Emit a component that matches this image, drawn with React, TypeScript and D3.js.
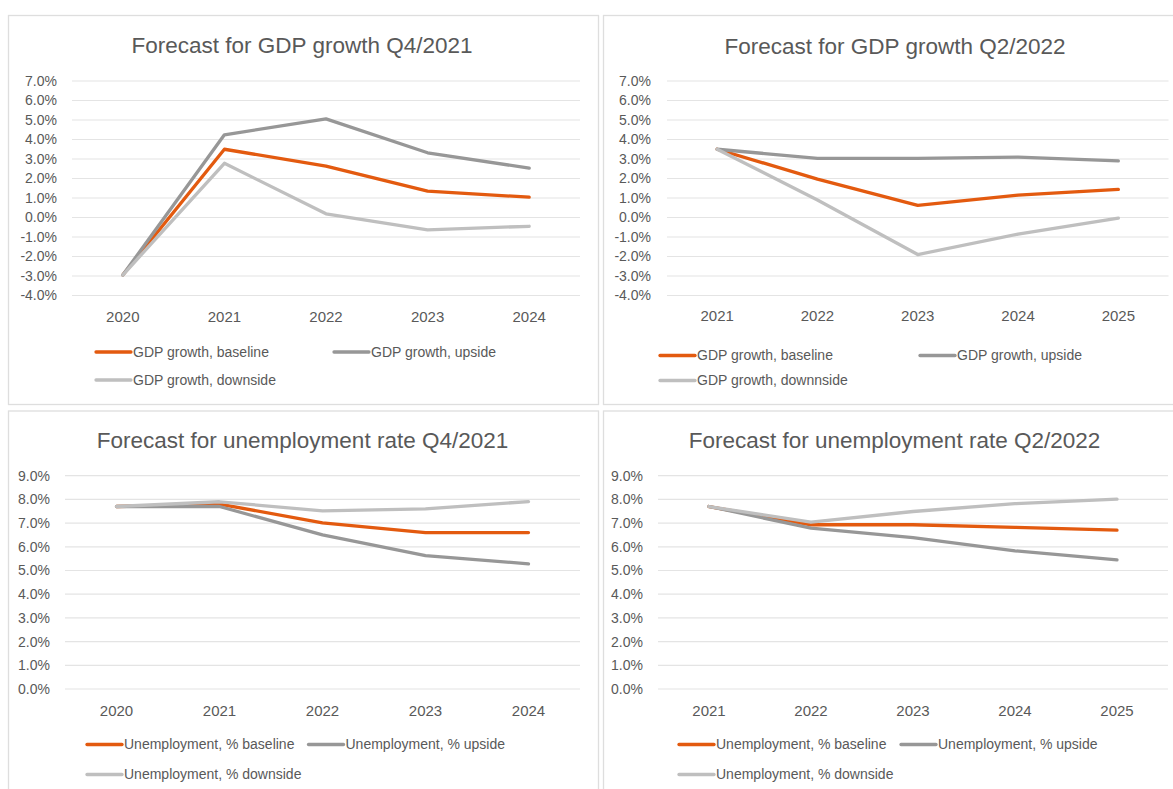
import React, { useEffect, useRef } from 'react'
import * as d3 from 'd3'

// data
const gdpYearsA = ['2020', '2021', '2022', '2023', '2024']
const gdpBaselineA = [-2.95, 3.5, 2.63, 1.35, 1.04]
const gdpUpsideA = [-2.95, 4.24, 5.06, 3.32, 2.53]
const gdpDownsideA = [-2.95, 2.78, 0.19, -0.63, -0.45]

const gdpYearsB = ['2021', '2022', '2023', '2024', '2025']
const gdpBaselineB = [3.5, 1.97, 0.62, 1.15, 1.44]
const gdpUpsideB = [3.5, 3.03, 3.03, 3.1, 2.9]
const gdpDownsideB = [3.5, 0.9, -1.9, -0.85, -0.03]

const unempYearsA = ['2020', '2021', '2022', '2023', '2024']
const unempBaselineA = [7.7, 7.8, 7.01, 6.6, 6.6]
const unempUpsideA = [7.7, 7.7, 6.5, 5.63, 5.28]
const unempDownsideA = [7.7, 7.9, 7.52, 7.6, 7.91]

const unempYearsB = ['2021', '2022', '2023', '2024', '2025']
const unempBaselineB = [7.7, 6.93, 6.93, 6.82, 6.7]
const unempUpsideB = [7.7, 6.79, 6.39, 5.83, 5.45]
const unempDownsideB = [7.7, 7.04, 7.49, 7.82, 8.01]

const gdpTicks = d3.range(-4, 8)
const unempTicks = d3.range(0, 10)

const gdpNames = ['GDP growth, baseline', 'GDP growth, upside', 'GDP growth, downside']
const gdpNamesB = ['GDP growth, baseline', 'GDP growth, upside', 'GDP growth, downnside']
const unempNames = ['Unemployment, % baseline', 'Unemployment, % upside', 'Unemployment, % downside']

const COLORS = ['#E35A0F', '#979797', '#BFBFBF']
const TEXT = '#595959'
const FONT = '"Liberation Sans", Arial, sans-serif'

type Panel = {
  title: string
  years: string[]
  series: number[][]
  names: string[]
  ticks: number[]
  box: { x: number; y: number; w: number; h: number }
  titleX: number
  titleY: number
  plot: { x0: number; x1: number; yTop: number; yBot: number }
  tickX: number
  xLabelY: number
  legend: { lx: number; y: number }[]
}

const panels: Panel[] = [
  {
    title: 'Forecast for GDP growth Q4/2021',
    years: gdpYearsA,
    series: [gdpBaselineA, gdpUpsideA, gdpDownsideA],
    names: gdpNames,
    ticks: gdpTicks,
    box: { x: 8.5, y: 15.5, w: 590, h: 389 },
    titleX: 302,
    titleY: 53,
    plot: { x0: 72, x1: 580, yTop: 81, yBot: 295.5 },
    tickX: 57,
    xLabelY: 322,
    legend: [
      { lx: 96, y: 352 },
      { lx: 334, y: 352 },
      { lx: 96, y: 380 },
    ],
  },
  {
    title: 'Forecast for GDP growth Q2/2022',
    years: gdpYearsB,
    series: [gdpBaselineB, gdpUpsideB, gdpDownsideB],
    names: gdpNamesB,
    ticks: gdpTicks,
    box: { x: 603.5, y: 15.5, w: 590, h: 389 },
    titleX: 895,
    titleY: 54,
    plot: { x0: 667, x1: 1168.5, yTop: 81, yBot: 295.5 },
    tickX: 651,
    xLabelY: 321,
    legend: [
      { lx: 660, y: 355.5 },
      { lx: 920, y: 355.5 },
      { lx: 660, y: 380.5 },
    ],
  },
  {
    title: 'Forecast for unemployment rate Q4/2021',
    years: unempYearsA,
    series: [unempBaselineA, unempUpsideA, unempDownsideA],
    names: unempNames,
    ticks: unempTicks,
    box: { x: 8.5, y: 411, w: 590, h: 400 },
    titleX: 302.5,
    titleY: 448,
    plot: { x0: 65, x1: 580, yTop: 475.7, yBot: 689 },
    tickX: 50,
    xLabelY: 716,
    legend: [
      { lx: 87, y: 744.5 },
      { lx: 308.5, y: 744.5 },
      { lx: 87, y: 774.5 },
    ],
  },
  {
    title: 'Forecast for unemployment rate Q2/2022',
    years: unempYearsB,
    series: [unempBaselineB, unempUpsideB, unempDownsideB],
    names: unempNames,
    ticks: unempTicks,
    box: { x: 603.5, y: 411, w: 590, h: 400 },
    titleX: 894.5,
    titleY: 448,
    plot: { x0: 658, x1: 1168, yTop: 475.7, yBot: 689 },
    tickX: 643,
    xLabelY: 716,
    legend: [
      { lx: 679, y: 744.5 },
      { lx: 901, y: 744.5 },
      { lx: 679, y: 774.5 },
    ],
  },
]

const App: React.FC = () => {
  const svgRef = useRef<SVGSVGElement>(null)

  useEffect(() => {
    const svg = d3.select(svgRef.current)
    svg.selectAll('*').remove()

    svg.append('rect').attr('width', 1173).attr('height', 789).attr('fill', '#fff')

    panels.forEach((p) => {
      const g = svg.append('g')

      g.append('rect')
        .attr('x', p.box.x)
        .attr('y', p.box.y)
        .attr('width', p.box.w)
        .attr('height', p.box.h)
        .attr('fill', '#fff')
        .attr('stroke', '#DEDEDE')
        .attr('stroke-width', 1.3)

      const x = d3
        .scalePoint<string>()
        .domain(p.years)
        .range([p.plot.x0, p.plot.x1])
        .padding(0.5)

      const lo = p.ticks[0]
      const hi = p.ticks[p.ticks.length - 1]
      const y = d3.scaleLinear().domain([lo, hi]).range([p.plot.yBot, p.plot.yTop])

      // gridlines
      g.selectAll('.grid')
        .data(p.ticks)
        .enter()
        .append('line')
        .attr('x1', p.plot.x0)
        .attr('x2', p.plot.x1)
        .attr('y1', (d) => y(d))
        .attr('y2', (d) => y(d))
        .attr('stroke', '#E4E4E4')
        .attr('stroke-width', 1.2)

      // y tick labels
      g.selectAll('.ytick')
        .data(p.ticks)
        .enter()
        .append('text')
        .attr('x', p.tickX)
        .attr('y', (d) => y(d))
        .attr('dy', '0.35em')
        .attr('text-anchor', 'end')
        .attr('font-size', 14)
        .attr('font-family', FONT)
        .attr('fill', TEXT)
        .text((d) => `${d.toFixed(1)}%`)

      // x labels
      g.selectAll('.xtick')
        .data(p.years)
        .enter()
        .append('text')
        .attr('x', (d) => x(d)!)
        .attr('y', p.xLabelY)
        .attr('text-anchor', 'middle')
        .attr('font-size', 15)
        .attr('font-family', FONT)
        .attr('fill', TEXT)
        .text((d) => d)

      // title
      g.append('text')
        .attr('x', p.titleX)
        .attr('y', p.titleY)
        .attr('text-anchor', 'middle')
        .attr('font-size', 22.5)
        .attr('font-family', FONT)
        .attr('fill', TEXT)
        .text(p.title)

      // lines
      const line = d3
        .line<number>()
        .x((_, i) => x(p.years[i])!)
        .y((d) => y(d))

      p.series.forEach((s, i) => {
        g.append('path')
          .attr('d', line(s)!)
          .attr('fill', 'none')
          .attr('stroke', COLORS[i])
          .attr('stroke-width', 3.3)
          .attr('stroke-linejoin', 'round')
          .attr('stroke-linecap', 'round')
      })

      // legend
      p.legend.forEach((l, i) => {
        g.append('line')
          .attr('x1', l.lx)
          .attr('x2', l.lx + 35)
          .attr('y1', l.y)
          .attr('y2', l.y)
          .attr('stroke', COLORS[i])
          .attr('stroke-width', 3.3)
          .attr('stroke-linecap', 'round')
        g.append('text')
          .attr('x', l.lx + 37)
          .attr('y', l.y)
          .attr('dy', '0.35em')
          .attr('font-size', 14)
          .attr('font-family', FONT)
          .attr('fill', TEXT)
          .text(p.names[i])
      })
    })
  }, [])

  return (
    <div style={{ position: 'fixed', left: 0, top: 0, width: 1173, height: 789, overflow: 'hidden' }}>
      <svg ref={svgRef} width={1173} height={789} style={{ display: 'block' }}></svg>
    </div>
  )
}

export default App
